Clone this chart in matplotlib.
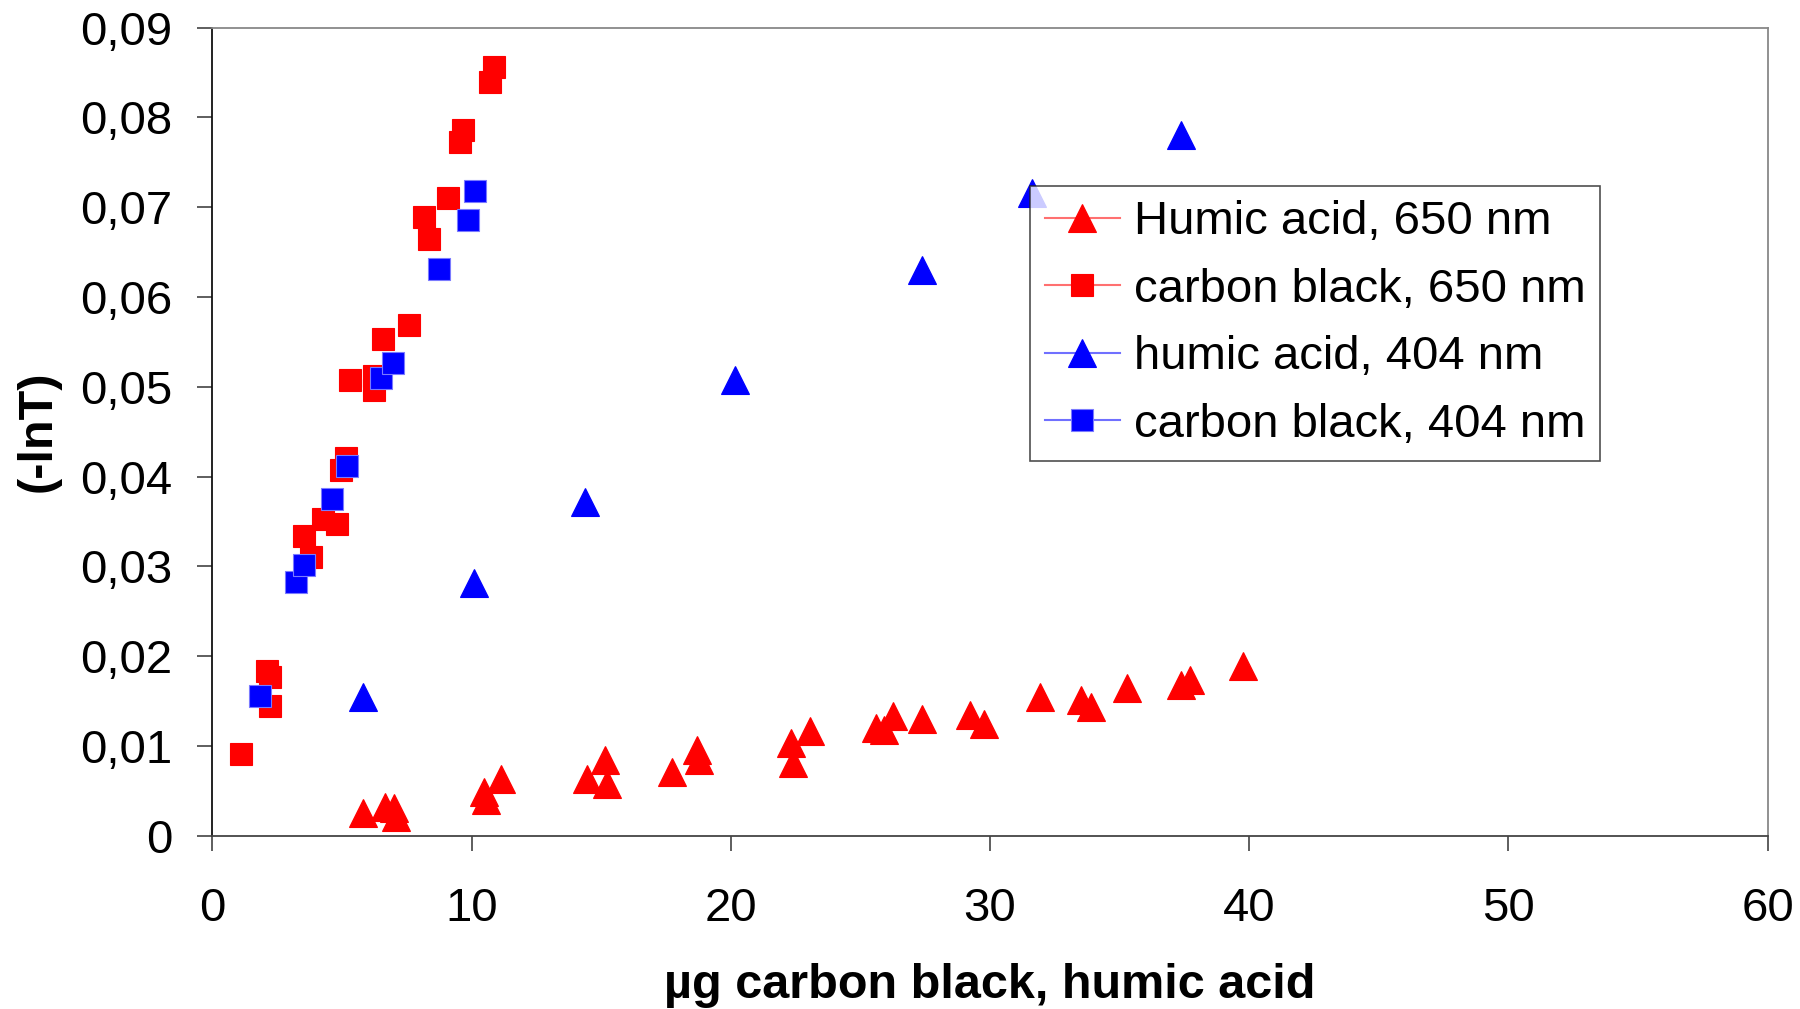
import matplotlib
matplotlib.use("agg")
from matplotlib import pyplot as plt
from matplotlib.ticker import FuncFormatter, MultipleLocator

plt.rcParams['font.family'] = ['Liberation Sans', 'DejaVu Sans']

# Humic acid, 650 nm
ha650_x = [5.8, 6.64, 7.0, 7.09, 10.46, 10.55, 11.13, 14.47, 15.13, 15.21,
           17.74, 18.68, 18.76, 22.32, 22.4, 23.07, 25.6, 25.9, 26.25, 27.36,
           29.23, 29.78, 31.94, 33.53, 33.88, 35.3, 37.35, 37.73, 39.78]
ha650_y = [0.0025, 0.0032, 0.0031, 0.0021, 0.0049, 0.0040, 0.0063, 0.0063, 0.0084, 0.0058,
           0.0071, 0.0096, 0.0084, 0.0103, 0.0081, 0.0117, 0.0120, 0.0118, 0.0133, 0.0130,
           0.0135, 0.0125, 0.0154, 0.0151, 0.0143, 0.0165, 0.0168, 0.0173, 0.0189]

# carbon black, 650 nm
cb650_x = [1.1, 2.1, 2.22, 2.22, 3.53, 3.8, 4.27, 4.82, 4.98, 5.17, 5.3,
           6.22, 6.22, 6.6, 7.6, 8.18, 8.37, 9.1, 9.57, 9.68, 10.72, 10.87]
cb650_y = [0.0091, 0.0183, 0.0177, 0.0145, 0.0334, 0.0310, 0.0353, 0.0347, 0.0407, 0.0421, 0.0507,
           0.0512, 0.0496, 0.0553, 0.0569, 0.0689, 0.0664, 0.0710, 0.0773, 0.0786, 0.0839, 0.0856]

# humic acid, 404 nm
ha404_x = [5.8, 10.09, 14.38, 20.18, 27.36, 31.63, 37.35]
ha404_y = [0.0154, 0.0281, 0.0372, 0.0508, 0.0630, 0.0716, 0.0780]

# carbon black, 404 nm
cb404_x = [1.83, 3.23, 3.52, 4.63, 5.18, 6.5, 6.96, 8.73, 9.86, 10.14]
cb404_y = [0.0156, 0.0283, 0.0302, 0.0375, 0.0412, 0.0510, 0.0526, 0.0631, 0.0686, 0.0718]

labels = ["Humic acid, 650 nm", "carbon black, 650 nm",
          "humic acid, 404 nm", "carbon black, 404 nm"]

fig = plt.figure(figsize=(18, 10.09), dpi=100)
ax = fig.add_axes([0.118, 0.1717, 0.864, 0.801])

red = "#ff0000"
blue = "#0000ff"

def series(x, y, marker, color, lcolor, ms, label, edge=None):
    # line only shows up in the legend, points are not joined
    h, = ax.plot(x, y, linestyle="none", marker=marker, ms=ms,
                 color=lcolor, markerfacecolor=color,
                 markeredgecolor=edge or color, markeredgewidth=0.8,
                 label=label, clip_on=False)
    return h

h1 = series(ha650_x, ha650_y, "^", red, "#ff7070", 20, labels[0])
h2 = series(cb650_x, cb650_y, "s", red, "#ff7070", 15.5, labels[1])
h3 = series(ha404_x, ha404_y, "^", blue, "#7070ff", 20, labels[2])
h4 = series(cb404_x, cb404_y, "s", blue, "#7070ff", 16, labels[3], edge="#7a7aff")

ax.set_xlim(0, 60)
ax.set_ylim(0, 0.09)
ax.xaxis.set_major_locator(MultipleLocator(10))
ax.yaxis.set_major_locator(MultipleLocator(0.01))

def comma_fmt(v, pos):
    if abs(v) < 1e-9:
        return "0"
    return f"{v:.2f}".replace(".", ",")

ax.yaxis.set_major_formatter(FuncFormatter(comma_fmt))
ax.tick_params(axis="both", direction="out", length=11, width=1.1,
               labelsize=34, color="#333333")
ax.tick_params(axis="y", pad=18)
ax.tick_params(axis="x", pad=26)

ax.spines["left"].set_color("#111111")
ax.spines["bottom"].set_color("#444444")
ax.spines["top"].set_color("#888888")
ax.spines["right"].set_color("#888888")
for s in ax.spines.values():
    s.set_linewidth(1.3)

ax.set_xlabel("µg carbon black, humic acid", fontsize=35, fontweight="bold", labelpad=23)
ax.set_ylabel("(-lnT)", fontsize=35, fontweight="bold", labelpad=14)

# legend lines are drawn thin, the markers keep their size
leg = ax.legend(handles=[h1, h2, h3, h4], loc="upper left",
                bbox_to_anchor=(0.526, 0.804), borderaxespad=0,
                fontsize=34, frameon=True, fancybox=False, shadow=False,
                handlelength=1.6, handletextpad=0.3, borderpad=0.3,
                labelspacing=0.5, numpoints=1)
leg.get_frame().set_edgecolor("#222222")
leg.get_frame().set_linewidth(1.2)
for ln in leg.get_lines():
    ln.set_linestyle("-")
    ln.set_linewidth(1.5)
leg.set_zorder(5)

fig.savefig("out.png", dpi=100)
